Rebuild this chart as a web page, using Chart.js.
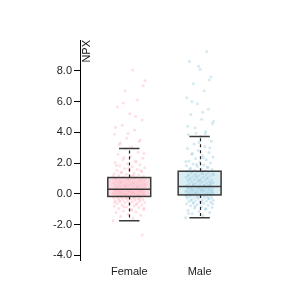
<!DOCTYPE html>
<html>
<head>
<meta charset="utf-8">
<script src="https://cdn.jsdelivr.net/npm/chart.js@4/dist/chart.umd.min.js"></script>
<style>
html,body{margin:0;padding:0;background:#fff;}
#wrap{width:300px;height:300px;}
</style>
</head>
<body>
<div id="wrap"><canvas id="c" width="300" height="300"></canvas></div>
<script>
const categories = ["Female", "Male"];
const yTickValues = [-4, -2, 0, 2, 4, 6, 8];
const yAxisTitle = "NPX";

// box statistics: [Female, Male]
const q1Values = [-0.17, -0.07];
const medianValues = [0.30, 0.47];
const q3Values = [1.06, 1.47];
const whiskerLowValues = [-1.75, -1.56];
const whiskerHighValues = [2.94, 3.72];

// individual NPX values (estimated from the scatter density)
const femaleValues = [
 -1.75,-1.58,-1.47,-1.39,-1.33,-1.22,-1.18,-1.11,-1.02,-0.98,-0.96,-0.89,-0.86,-0.81,-0.79,-0.73,-0.72,-0.66,-0.63,-0.61,
 -0.57,-0.56,-0.52,-0.50,-0.48,-0.46,-0.44,-0.40,-0.38,-0.37,-0.33,-0.31,-0.30,-0.27,-0.26,-0.24,-0.22,-0.21,-0.19,-0.18,
 -0.69,-0.84,-0.93,-1.07,-0.42,-0.35,-0.28,-0.54,-0.25,-0.20,-2.68,
 -0.16,-0.15,-0.13,-0.12,-0.10,-0.09,-0.08,-0.06,-0.05,-0.03,-0.02,0.00,0.01,0.02,0.04,0.05,0.06,0.08,0.09,0.10,
 0.12,0.13,0.14,0.15,0.17,0.18,0.19,0.21,0.22,0.23,0.24,0.26,0.27,0.28,0.29,-0.14,-0.11,-0.04,0.03,0.07,
 0.11,0.16,0.20,0.25,0.30,-0.07,-0.01,0.12,0.19,0.27,
 0.31,0.33,0.35,0.36,0.38,0.40,0.41,0.43,0.45,0.47,0.48,0.50,0.52,0.54,0.55,0.57,0.59,0.61,0.63,0.64,
 0.66,0.68,0.70,0.72,0.74,0.76,0.78,0.80,0.82,0.84,0.86,0.88,0.90,0.92,0.95,0.97,0.99,1.01,1.03,1.05,
 0.34,0.44,0.53,0.62,0.71,0.79,0.87,0.94,1.00,1.06,
 1.09,1.12,1.16,1.19,1.23,1.27,1.31,1.35,1.40,1.44,1.49,1.54,1.59,1.64,1.70,1.76,1.82,1.89,1.96,2.04,
 2.12,2.21,2.31,2.42,2.55,2.70,2.94,1.14,1.21,1.38,1.52,1.67,1.85,2.08,2.35,2.63,
 3.05,3.21,3.40,3.62,3.87,4.15,4.46,4.80,5.20,5.65,6.10,6.70,7.35,8.05,3.30,3.52,3.93,4.31,5.02,5.90,7.02
];
const maleValues = [
 -1.56,-1.41,-1.30,-1.21,-1.14,-1.06,-1.00,-0.94,-0.88,-0.83,-0.78,-0.74,-0.70,-0.66,-0.62,-0.58,-0.55,-0.52,-0.49,-0.46,
 -0.43,-0.41,-0.38,-0.36,-0.33,-0.31,-0.29,-0.27,-0.25,-0.23,-0.21,-0.19,-0.17,-0.15,-0.13,-0.11,-0.09,-0.08,-0.07,-1.26,
 -0.97,-0.80,-0.64,-0.51,-0.40,-0.30,-0.20,-0.14,-0.10,-0.60,
 -0.06,-0.04,-0.03,-0.01,0.00,0.02,0.03,0.05,0.06,0.08,0.09,0.11,0.12,0.14,0.15,0.17,0.19,0.20,0.22,0.23,
 0.25,0.26,0.28,0.29,0.31,0.32,0.34,0.35,0.37,0.38,0.40,0.41,0.43,0.44,0.46,0.47,-0.05,0.01,0.07,0.13,
 0.18,0.24,0.30,0.36,0.42,0.45,0.04,0.16,0.27,0.39,
 0.49,0.51,0.54,0.56,0.59,0.61,0.64,0.66,0.69,0.71,0.74,0.76,0.79,0.81,0.84,0.86,0.89,0.91,0.94,0.96,
 0.99,1.01,1.04,1.07,1.10,1.13,1.16,1.19,1.22,1.25,1.28,1.31,1.34,1.37,1.40,1.43,1.46,0.52,0.63,0.73,
 0.83,0.93,1.03,1.15,1.24,1.33,1.42,0.58,0.88,1.18,
 1.50,1.54,1.58,1.62,1.67,1.72,1.77,1.82,1.88,1.94,2.00,2.07,2.14,2.22,2.30,2.39,2.48,2.58,2.69,2.81,
 2.94,3.08,3.24,3.42,3.72,1.60,1.75,1.91,2.10,2.35,2.63,2.98,3.33,
 3.85,4.05,4.30,4.55,4.85,5.15,5.50,5.85,6.25,6.70,7.15,7.60,8.10,8.60,9.25,3.95,4.70,5.30,6.00,7.40,8.30,4.40,3.90
];

const boxFill = ["rgba(250,214,222,0.9)", "rgba(214,235,242,0.9)"];
const pointColor = ["rgba(255,178,190,0.42)", "rgba(155,203,226,0.42)"];

// deterministic horizontal spread (position only)
function spread(values, center, half) {
  return values.map((v, i) => ({ x: center + (((i * 0.6180339887) % 1) - 0.5) * 2 * half, y: v }));
}

const boxPlugin = {
  id: 'boxes',
  beforeDatasetsDraw(chart) {
    const {ctx, scales: {x, y}} = chart;
    ctx.save();
    categories.forEach((c, i) => {
      const l = x.getPixelForValue(i - 0.305), r = x.getPixelForValue(i + 0.305);
      const t = y.getPixelForValue(q3Values[i]), b = y.getPixelForValue(q1Values[i]);
      ctx.fillStyle = boxFill[i];
      ctx.fillRect(l, t, r - l, b - t);
    });
    ctx.restore();
  },
  afterDatasetsDraw(chart) {
    const {ctx, scales: {x, y}, chartArea} = chart;
    ctx.save();
    categories.forEach((c, i) => {
      const cx = Math.round(x.getPixelForValue(i)) + 0.5;
      const l = x.getPixelForValue(i - 0.305), r = x.getPixelForValue(i + 0.305);
      const cl = x.getPixelForValue(i - 0.145), cr = x.getPixelForValue(i + 0.145);
      const t = y.getPixelForValue(q3Values[i]), b = y.getPixelForValue(q1Values[i]);
      const m = y.getPixelForValue(medianValues[i]);
      const wl = y.getPixelForValue(whiskerLowValues[i]), wh = y.getPixelForValue(whiskerHighValues[i]);
      ctx.strokeStyle = '#222';
      ctx.lineWidth = 1.2;
      ctx.setLineDash([3, 3]);
      ctx.beginPath();
      ctx.moveTo(cx, t); ctx.lineTo(cx, wh);
      ctx.moveTo(cx, b); ctx.lineTo(cx, wl);
      ctx.stroke();
      ctx.setLineDash([]);
      ctx.strokeStyle = '#3a3a3a';
      ctx.lineWidth = 1.5;
      ctx.beginPath();
      ctx.moveTo(cl, wh); ctx.lineTo(cr, wh);
      ctx.moveTo(cl, wl); ctx.lineTo(cr, wl);
      ctx.stroke();
      ctx.strokeRect(l, t, r - l, b - t);
      ctx.beginPath();
      ctx.moveTo(l, m); ctx.lineTo(r, m);
      ctx.stroke();
    });
    // axis title
    ctx.fillStyle = '#111';
    ctx.font = '11px "Liberation Sans", Arial, sans-serif';
    ctx.translate(chartArea.left + 7, chartArea.top);
    ctx.rotate(-Math.PI / 2);
    ctx.textAlign = 'right';
    ctx.textBaseline = 'middle';
    ctx.fillText(yAxisTitle, 0, 0);
    ctx.restore();
  }
};

new Chart(document.getElementById('c'), {
  type: 'scatter',
  data: {
    datasets: [
      { label: categories[0], data: spread(femaleValues, 0, 0.23), backgroundColor: pointColor[0], borderWidth: 0, pointRadius: 1.5 },
      { label: categories[1], data: spread(maleValues, 1, 0.2), backgroundColor: pointColor[1], borderWidth: 0, pointRadius: 1.5 }
    ]
  },
  options: {
    responsive: false,
    animation: false,
    layout: { padding: { top: 40, right: 30, left: 0, bottom: 0 } },
    plugins: { legend: { display: false }, tooltip: { enabled: false } },
    scales: {
      x: {
        type: 'linear', min: -0.7, max: 2.0,
        grid: { display: false, drawTicks: false },
        border: { display: false },
        afterBuildTicks(s) { s.ticks = categories.map((c, i) => ({ value: i })); },
        afterFit(s) { s.height = 40; },
        ticks: {
          padding: 5, color: '#222', maxRotation: 0, autoSkip: false,
          font: { family: '"Liberation Sans", Arial, sans-serif', size: 11 },
          callback: (v) => categories[v]
        }
      },
      y: {
        type: 'linear', min: -4.3, max: 10,
        grid: { drawOnChartArea: false, drawTicks: true, tickLength: 6, color: '#000', lineWidth: 1 },
        border: { display: true, color: '#000', width: 1 },
        afterBuildTicks(s) { s.ticks = yTickValues.map(v => ({ value: v })); },
        afterFit(s) { s.width = 80; },
        ticks: {
          padding: 2, color: '#222',
          font: { family: '"Liberation Sans", Arial, sans-serif', size: 11 },
          callback: (v) => Number(v).toFixed(1)
        }
      }
    }
  },
  plugins: [boxPlugin]
});
</script>
</body>
</html>
